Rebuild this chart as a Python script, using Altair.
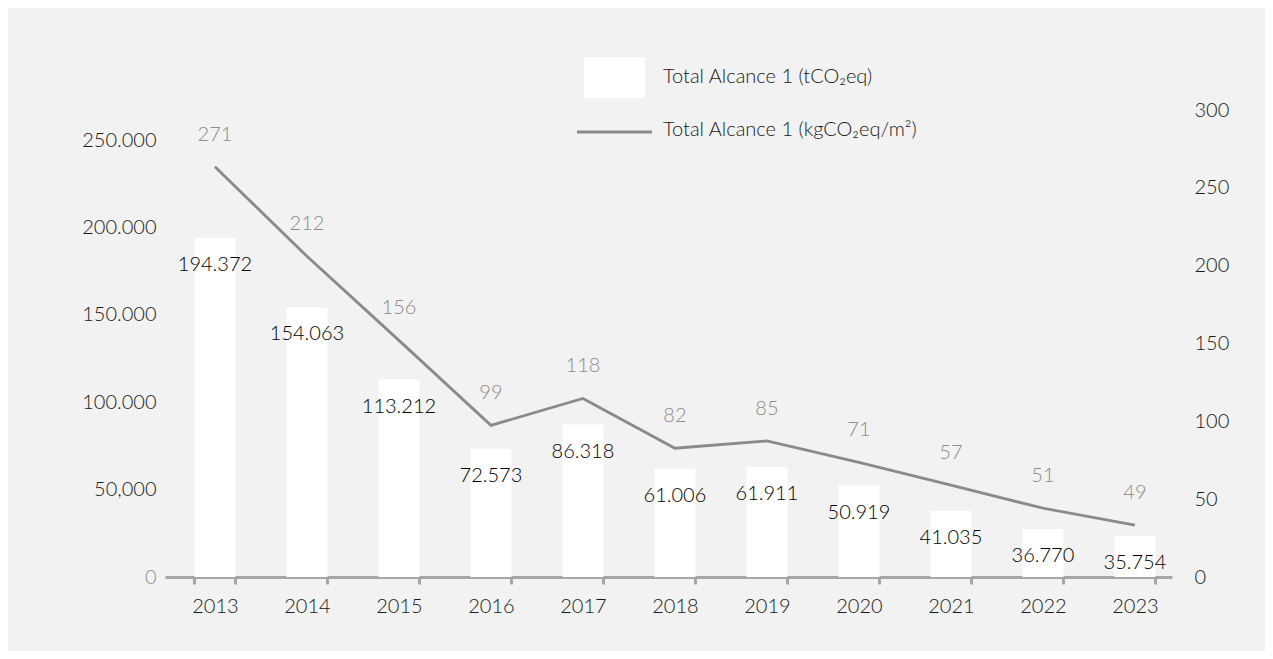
import altair as alt
import pandas as pd

years = ["2013", "2014", "2015", "2016", "2017", "2018", "2019", "2020", "2021", "2022", "2023"]
# bar heights as drawn (tCO2eq)
bar_values = [194000, 154200, 113000, 73400, 87200, 61900, 63000, 52300, 37800, 27500, 23500]
bar_labels = ["194.372", "154.063", "113.212", "72.573", "86.318", "61.006", "61.911",
              "50.919", "41.035", "36.770", "35.754"]
# line as drawn (kgCO2eq/m2)
line_values = [263.5, 206, 152, 97.4, 114.7, 82.7, 87.4, 73.7, 59, 44.2, 33.3]
line_labels = ["271", "212", "156", "99", "118", "82", "85", "71", "57", "51", "49"]

left_ticks = [0, 50000, 100000, 150000, 200000, 250000]
left_tick_labels = ["0", "50,000", "100.000", "150.000", "200.000", "250.000"]
right_ticks = [0, 50, 100, 150, 200, 250, 300]

legend_bar = "Total Alcance 1 (tCO\u2082eq)"
legend_line = "Total Alcance 1 (kgCO\u2082eq/m\u00b2)"

df = pd.DataFrame({
    "year": years,
    "bar": bar_values,
    "bar_label": bar_labels,
    "line": line_values,
    "line_label": line_labels,
})

FONT = "Lato"
FW = 300
W, H = 1007, 467

label_expr = " : ".join(
    f"datum.value == {v} ? '{t}'" for v, t in zip(left_ticks, left_tick_labels)
) + " : ''"

x_enc = alt.X(
    "year:N", sort=years, title=None,
    scale=alt.Scale(paddingInner=0.554, paddingOuter=0.25, align=0.64),
    axis=alt.Axis(
        labelAngle=0, labelFontSize=20, labelColor="#1a1a1a", labelFont=FONT,
        labelFontWeight=FW,
        labelPadding=12, domainColor="#a6a6a6", domainWidth=3,
        tickColor="#a6a6a6", tickWidth=3, tickSize=7, tickBand="extent",
        grid=False,
    ),
)

left_scale = alt.Scale(domain=[0, 267200], nice=False, zero=True)
right_scale = alt.Scale(domain=[0, 300], nice=False, zero=True)

left_axis = alt.Axis(
    values=left_ticks, labelExpr=label_expr, labelFontSize=20,
    labelFont=FONT, labelFontWeight=FW, labelPadding=9, domain=False, ticks=False,
    grid=False,
    labelColor={"condition": {"test": "datum.value == 0", "value": "#8c8c8c"},
                "value": "#1a1a1a"},
)
right_axis = alt.Axis(
    orient="right", values=right_ticks, labelFontSize=20, labelFont=FONT,
    labelFontWeight=FW,
    labelColor="#1a1a1a", labelPadding=22, domain=False, ticks=False, grid=False,
)

bars = alt.Chart(df).mark_bar(color="#ffffff").encode(
    x=x_enc,
    y=alt.Y("bar:Q", scale=left_scale, title=None, axis=left_axis),
)
bar_text = alt.Chart(df).mark_text(
    fontSize=20, font=FONT, fontWeight=FW, color="#000000", dy=27, baseline="middle"
).encode(
    x=x_enc,
    y=alt.Y("bar:Q", scale=left_scale, title=None, axis=left_axis),
    text="bar_label:N",
)

line = alt.Chart(df).mark_line(color="#8a8a8a", strokeWidth=2.8).encode(
    x=x_enc,
    y=alt.Y("line:Q", scale=right_scale, title=None, axis=right_axis),
)
line_text = alt.Chart(df).mark_text(
    fontSize=20, font=FONT, fontWeight=FW, color="#8c8c8c", dy=-32, baseline="middle"
).encode(
    x=x_enc,
    y=alt.Y("line:Q", scale=right_scale, title=None, axis=right_axis),
    text="line_label:N",
)

one = pd.DataFrame({"k": [0]})
leg_rect = alt.Chart(one).mark_rect(color="#ffffff").encode(
    x=alt.value(419), x2=alt.value(480), y=alt.value(-53), y2=alt.value(-12)
)
leg_rule = alt.Chart(one).mark_rule(color="#8a8a8a", strokeWidth=2.8).encode(
    x=alt.value(412), x2=alt.value(487), y=alt.value(22)
)
leg_t1 = alt.Chart(one).mark_text(
    fontSize=20, font=FONT, fontWeight=FW, color="#1a1a1a", align="left", baseline="middle"
).encode(x=alt.value(498), y=alt.value(-33), text=alt.value(legend_bar))
leg_t2 = alt.Chart(one).mark_text(
    fontSize=20, font=FONT, fontWeight=FW, color="#1a1a1a", align="left", baseline="middle"
).encode(x=alt.value(498), y=alt.value(20), text=alt.value(legend_line))

left = alt.layer(bars, bar_text)
right = alt.layer(line, line_text)

chart = alt.layer(left, right, leg_rect, leg_rule, leg_t1, leg_t2).resolve_scale(
    y="independent"
).properties(
    width=W, height=H,
    background="#f2f2f2",
    padding={"left": 157, "top": 102, "right": 93, "bottom": 74},
    autosize=alt.AutoSizeParams(type="none"),
).configure_view(stroke=None)

chart.save("out.html", embed_options={"renderer": "svg", "actions": False})
